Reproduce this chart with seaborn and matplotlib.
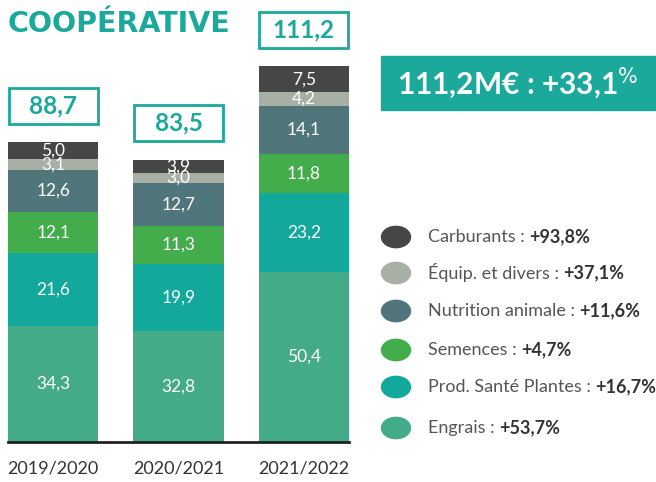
import numpy as np
import pandas as pd
from matplotlib import pyplot as plt
from matplotlib.patches import Rectangle, Circle
import seaborn as sns

years = ["2019/2020", "2020/2021", "2021/2022"]
categories = ["Engrais", "Prod. Santé Plantes", "Semences",
              "Nutrition animale", "Équip. et divers", "Carburants"]
engrais = [34.3, 32.8, 50.4]
sante = [21.6, 19.9, 23.2]
semences = [12.1, 11.3, 11.8]
nutrition = [12.6, 12.7, 14.1]
equip = [3.1, 3.0, 4.2]
carburants = [5.0, 3.9, 7.5]
totals = [88.7, 83.5, 111.2]
evolutions = ["+53,7%", "+16,7%", "+4,7%", "+11,6%", "+37,1%", "+93,8%"]
colors = ["#44ab88", "#12a89c", "#42ad4a", "#50757a", "#a8b0a6", "#464646"]
teal = "#1aa99a"

sns.set_theme(style="white")
plt.rcParams['font.family'] = ['Lato', 'DejaVu Sans']

series = [engrais, sante, semences, nutrition, equip, carburants]
df = pd.DataFrame({c: v for c, v in zip(categories, series)}, index=years)
cum = df.cumsum(axis=1)

fig = plt.figure(figsize=(6.56, 4.82), dpi=100)
ax = fig.add_axes([8 / 656, 40 / 482, 341 / 656, 439 / 482])

# stacked bars: draw cumulative totals from the top category down
for cat, col in zip(reversed(categories), reversed(colors)):
    sns.barplot(x=years, y=cum[cat].values, color=col, width=0.72,
                saturation=1, ax=ax, linewidth=0)

# segment labels
for i, yr in enumerate(years):
    base = 0
    for cat in categories:
        v = df.loc[yr, cat]
        ax.text(i, base + v / 2, f"{v:.1f}".replace(".", ","), ha="center",
                va="center", color="white", fontsize=12.5)
        base += v

# total boxes above bars
for i, t in enumerate(totals):
    y0 = cum.iloc[i, -1] + 5.5
    ax.add_patch(Rectangle((i - 0.355, y0), 0.71, 10.7, fill=False,
                           edgecolor=teal, lw=2, clip_on=False))
    ax.text(i, y0 + 5.35, f"{t:.1f}".replace(".", ","), ha="center",
            va="center", color=teal, fontsize=17.5, fontweight="bold")

ax.set_xlim(-0.36, 2.36)
ax.set_ylim(0, 130)
ax.set_yticks([])
sns.despine(ax=ax, left=True)
ax.spines["bottom"].set_color("#222222")
ax.spines["bottom"].set_linewidth(2)
ax.tick_params(axis="x", length=0, pad=13, labelsize=13, labelcolor="#333333")
ax.set_xlabel(None)

# title
fig.text(8 / 656, 1 - 24 / 482, "COOPÉRATIVE", color=teal, fontsize=20.5,
         fontweight="bold", va="center", ha="left", family="DejaVu Sans")

# big summary box
fig.patches.append(Rectangle((381 / 656, 1 - 110 / 482), 275 / 656, 54 / 482,
                             transform=fig.transFigure, color=teal, zorder=0))
fig.text(518 / 656, 1 - 84 / 482, r"111,2M€ : +33,1$^{\%}$", color="white",
         fontsize=21.5, fontweight="bold", ha="center", va="center")

# legend
legend_y = [428, 387, 350, 311, 273, 237]
for cat, col, ev, yp in zip(categories, colors, evolutions, legend_y):
    fy = 1 - yp / 482
    fig.patches.append(Circle((396 / 656, fy), 14.5 / 656, color=col,
                              transform=fig.transFigure))
    t = fig.text(428 / 656, fy, f"{cat} : ", color="#555555", fontsize=13,
                 va="center", ha="left")
    fig.canvas.draw()
    bb = t.get_window_extent()
    fig.text(bb.x1 / 656, fy, ev, color="#333333", fontsize=13,
             fontweight="bold", va="center", ha="left")

plt.savefig("out.png", dpi=100)
